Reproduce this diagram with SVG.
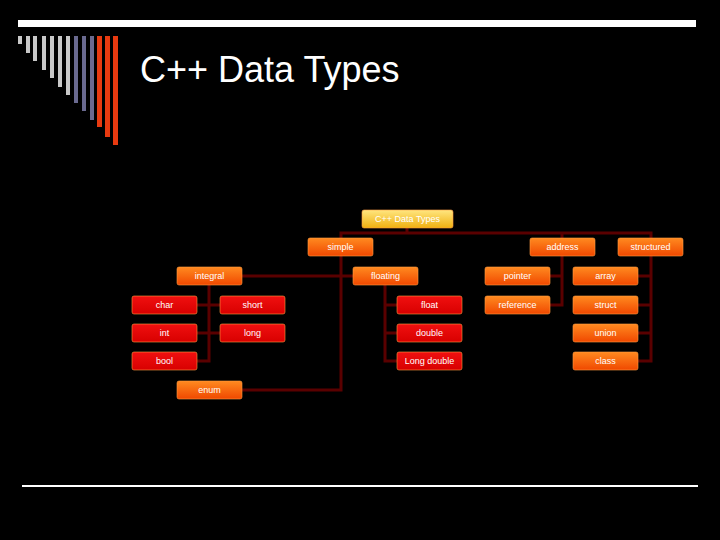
<svg xmlns="http://www.w3.org/2000/svg" width="720" height="540" viewBox="0 0 720 540">
<defs>
<linearGradient id="gy" x1="0" y1="0" x2="0" y2="1"><stop offset="0" stop-color="#ffe680"/><stop offset="1" stop-color="#f0b010"/></linearGradient>
<linearGradient id="go" x1="0" y1="0" x2="0" y2="1"><stop offset="0" stop-color="#ff8a20"/><stop offset="1" stop-color="#f04800"/></linearGradient>
<linearGradient id="gr" x1="0" y1="0" x2="0" y2="1"><stop offset="0" stop-color="#f01010"/><stop offset="1" stop-color="#d80000"/></linearGradient>
</defs>
<style>
.n rect{rx:2;stroke:#ff9a40;stroke-width:0.6}
.y rect{fill:url(#gy)}
.o rect{fill:url(#go)}
.r rect{fill:url(#gr)}
.n text{font-family:"Liberation Sans",Arial,sans-serif;font-size:9px;fill:#fff;text-anchor:middle}
#c path{fill:none;stroke:#5a0000;stroke-width:3}
</style>
<rect width="720" height="540" fill="#000"/>
<rect x="18" y="20" width="678" height="7" fill="#fff"/>
<g>
<rect x="18" y="36" width="4" height="8" fill="#c8c8c8"/>
<rect x="26" y="36" width="4" height="17" fill="#c8c8c8"/>
<rect x="33" y="36" width="4" height="25" fill="#c8c8c8"/>
<rect x="42" y="36" width="4" height="34" fill="#c8c8c8"/>
<rect x="50" y="36" width="4" height="42" fill="#c8c8c8"/>
<rect x="58" y="36" width="4" height="51" fill="#c8c8c8"/>
<rect x="66" y="36" width="4" height="59" fill="#c8c8c8"/>
<rect x="74" y="36" width="4" height="67" fill="#6a6a90"/>
<rect x="82" y="36" width="4" height="75" fill="#6a6a90"/>
<rect x="90" y="36" width="4" height="84" fill="#6a6a90"/>
<rect x="97" y="36" width="5" height="91" fill="#e83a10"/>
<rect x="105" y="36" width="5" height="101" fill="#e83a10"/>
<rect x="113" y="36" width="5" height="109" fill="#e83a10"/>
</g>
<text x="140" y="82" font-family="Liberation Sans,Arial,sans-serif" font-size="36" fill="#fff">C++ Data Types</text>
<rect x="22" y="485" width="676" height="2" fill="#fff"/>
<g id="c">
<path d="M407 228V233M341 238V233H651V238M562 233V238"/>
<path d="M341 256V390H242M242 276H353"/>
<path d="M209 285V361H197M197 305H220M197 333H220"/>
<path d="M385 285V361H397M385 305H397M385 333H397"/>
<path d="M562 256V305H550M550 276H562"/>
<path d="M651 256V361H638M638 276H651M638 305H651M638 333H651"/>
</g>
<g id="root" class="n y"><rect x="362" y="210" width="91" height="18"/><text x="407.5" y="222">C++ Data Types</text></g>
<g id="simple" class="n o"><rect x="308" y="238" width="65" height="18"/><text x="340.5" y="250">simple</text></g>
<g id="address" class="n o"><rect x="530" y="238" width="65" height="18"/><text x="562.5" y="250">address</text></g>
<g id="structured" class="n o"><rect x="618" y="238" width="65" height="18"/><text x="650.5" y="250">structured</text></g>
<g id="integral" class="n o"><rect x="177" y="267" width="65" height="18"/><text x="209.5" y="279">integral</text></g>
<g id="floating" class="n o"><rect x="353" y="267" width="65" height="18"/><text x="385.5" y="279">floating</text></g>
<g id="pointer" class="n o"><rect x="485" y="267" width="65" height="18"/><text x="517.5" y="279">pointer</text></g>
<g id="array" class="n o"><rect x="573" y="267" width="65" height="18"/><text x="605.5" y="279">array</text></g>
<g id="char" class="n r"><rect x="132" y="296" width="65" height="18"/><text x="164.5" y="308">char</text></g>
<g id="short" class="n r"><rect x="220" y="296" width="65" height="18"/><text x="252.5" y="308">short</text></g>
<g id="float" class="n r"><rect x="397" y="296" width="65" height="18"/><text x="429.5" y="308">float</text></g>
<g id="reference" class="n o"><rect x="485" y="296" width="65" height="18"/><text x="517.5" y="308">reference</text></g>
<g id="struct" class="n o"><rect x="573" y="296" width="65" height="18"/><text x="605.5" y="308">struct</text></g>
<g id="int" class="n r"><rect x="132" y="324" width="65" height="18"/><text x="164.5" y="336">int</text></g>
<g id="long" class="n r"><rect x="220" y="324" width="65" height="18"/><text x="252.5" y="336">long</text></g>
<g id="double" class="n r"><rect x="397" y="324" width="65" height="18"/><text x="429.5" y="336">double</text></g>
<g id="union" class="n o"><rect x="573" y="324" width="65" height="18"/><text x="605.5" y="336">union</text></g>
<g id="bool" class="n r"><rect x="132" y="352" width="65" height="18"/><text x="164.5" y="364">bool</text></g>
<g id="longdouble" class="n r"><rect x="397" y="352" width="65" height="18"/><text x="429.5" y="364">Long double</text></g>
<g id="class" class="n o"><rect x="573" y="352" width="65" height="18"/><text x="605.5" y="364">class</text></g>
<g id="enum" class="n o"><rect x="177" y="381" width="65" height="18"/><text x="209.5" y="393">enum</text></g>
</svg>
